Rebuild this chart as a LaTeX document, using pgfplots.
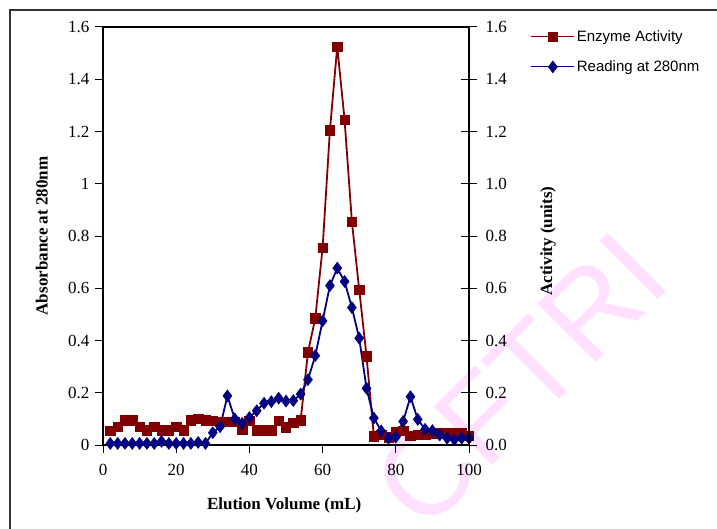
\documentclass[border=0pt]{standalone}
\usepackage{pgfplots}
\pgfplotsset{compat=1.18}
\usepackage{fontspec}
\setmainfont{Liberation Serif}
\newfontfamily\arialfont{Liberation Sans}

\definecolor{enzred}{RGB}{128,0,0}
\definecolor{absblue}{RGB}{0,0,128}
\definecolor{wmpink}{RGB}{255,225,255}

% Enzyme activity (units) vs elution volume (mL)
\pgfplotstableread{
vol act
2 0.055
4 0.070
6 0.095
8 0.095
10 0.070
12 0.057
14 0.070
16 0.057
18 0.057
20 0.070
22 0.057
24 0.095
26 0.100
28 0.095
30 0.093
32 0.088
34 0.090
36 0.088
38 0.060
40 0.093
42 0.057
44 0.057
46 0.057
48 0.093
50 0.068
52 0.085
54 0.095
56 0.355
58 0.485
60 0.755
62 1.205
64 1.525
66 1.245
68 0.855
70 0.595
72 0.340
74 0.034
76 0.040
78 0.030
80 0.050
82 0.055
84 0.035
86 0.040
88 0.040
90 0.045
92 0.046
94 0.045
96 0.045
98 0.046
100 0.035
}\activity

% Absorbance at 280 nm vs elution volume (mL)
\pgfplotstableread{
vol abs
2 0.006
4 0.006
6 0.006
8 0.006
10 0.006
12 0.006
14 0.006
16 0.014
18 0.006
20 0.006
22 0.006
24 0.006
26 0.010
28 0.006
30 0.047
32 0.070
34 0.188
36 0.100
38 0.083
40 0.105
42 0.131
44 0.160
46 0.166
48 0.179
50 0.168
52 0.170
54 0.195
56 0.250
58 0.342
60 0.475
62 0.610
64 0.677
66 0.626
68 0.526
70 0.409
72 0.217
74 0.103
76 0.054
78 0.026
80 0.030
82 0.090
84 0.185
86 0.098
88 0.060
90 0.055
92 0.038
94 0.026
96 0.020
98 0.026
100 0.026
}\absorb

\begin{document}
\begin{tikzpicture}[x=1pt,y=1pt]
\useasboundingbox (0,0) rectangle (717,528);
% outer frame
\draw[line width=1.5pt, black!80] (10,-5) -- (10,518) -- (722,518);
% watermark
\node[rotate=45, text=wmpink, font=\arialfont\fontsize{120}{120}\selectfont] at (520,148) {CFTRI};

\pgfplotsset{
  myaxis/.style={
    scale only axis, width=366pt, height=418pt,
    at={(103pt,83pt)}, anchor=south west,
    xmin=0, xmax=100, ymin=0, ymax=1.6,
    axis line style={line width=1.2pt},
    every tick/.style={black, line width=1.0pt},
    tick label style={font=\fontsize{17}{20}\selectfont},
    /pgf/number format/assume math mode=true,
    label style={font=\bfseries\fontsize{17}{20}\selectfont},
  }
}

\begin{axis}[myaxis,
  xtick={0,20,...,100}, xtick pos=bottom, xtick align=outside,
  ytick={0,0.2,...,1.6}, ytick pos=left, ytick align=outside,
  major tick length=8pt,
  yticklabels={0,0.2,0.4,0.6,0.8,1,1.2,1.4,1.6},
  xticklabel style={yshift=-8pt},
  yticklabel style={xshift=-2pt},
  xlabel={Elution Volume (mL)},
  ylabel={Absorbance at 280nm},
  xlabel style={at={(axis description cs:0.495,-0.1435)}, anchor=center},
  ylabel style={at={(axis description cs:-0.167,0.5)}, anchor=center, rotate=0},
  legend style={draw=none, fill=none, at={(1.160,1.002)}, anchor=north west,
    font=\arialfont\fontsize{15}{18}\selectfont, row sep=14pt,
    /tikz/every even column/.append style={column sep=4pt}},
  legend cell align=left,
  legend image code/.code={
    \draw[#1, mark=none, line width=1.1pt] (0pt,0pt) -- (43pt,0pt);
    \draw[#1, only marks] plot coordinates {(21.5pt,0pt)};
  },
]
\addplot[enzred, line width=1.8pt, mark=square*, mark size=4.7pt,
  mark options={solid, line width=0.5pt}] table[x=vol,y=act] {\activity};
\addlegendentry{Enzyme Activity}
\addplot[absblue, line width=1.8pt, mark=diamond*, mark size=6pt,
  mark options={solid, line width=0.5pt}] table[x=vol,y=abs] {\absorb};
\addlegendentry{Reading at 280nm}
\end{axis}

\begin{axis}[myaxis,
  axis x line=none, axis y line*=right,
  ytick={0,0.2,...,1.6}, ytick align=center, major tick length=16pt,
  yticklabel style={xshift=5pt, /pgf/number format/.cd, fixed, fixed zerofill, precision=1},
  ylabel={Activity (units)},
  ylabel style={at={(axis description cs:1.216,0.488)}, anchor=center, rotate=0},
]
\end{axis}
\end{tikzpicture}
\end{document}
